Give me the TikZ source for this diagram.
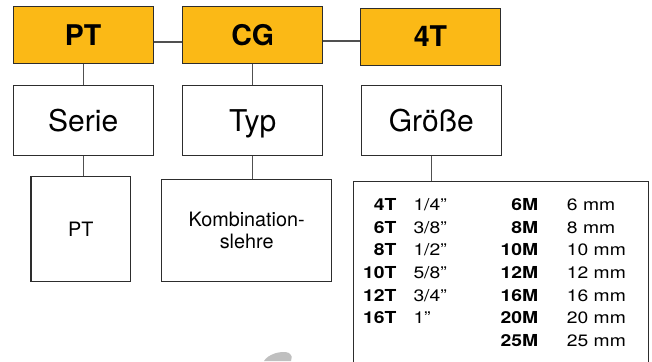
\documentclass[tikz,border=0pt]{standalone}
\usepackage{fontspec}
\setmainfont{TeX Gyre Heros}
\newfontfamily\tabfont{TeX Gyre Heros}[FakeStretch=1.17]
\definecolor{codeorange}{RGB}{251,185,22}
\definecolor{framegray}{RGB}{45,45,45}
\definecolor{linegray}{RGB}{80,80,80}
\tikzset{
  codebox/.style={draw=framegray, line width=1.1pt, fill=codeorange, minimum width=140pt, minimum height=57pt, inner sep=0pt, font=\fontsize{28.5}{30}\selectfont\bfseries, text height=20.5pt, text depth=0pt},
  namebox/.style={draw=framegray, line width=1.1pt, fill=white, minimum width=140pt, minimum height=70pt, inner sep=0pt, font=\fontsize{30}{32}\selectfont, text height=21.5pt, text depth=0pt},
  valuebox/.style={draw=framegray, line width=1.1pt, fill=white, inner sep=0pt, font=\fontsize{19.8}{22.7}\selectfont, align=center},
  tabcol/.style={inner sep=0pt, font=\tabfont\fontsize{16.5}{22.6}\selectfont},
  link/.style={draw=linegray, line width=1.2pt},
}
\begin{document}
\begin{tikzpicture}[x=1pt, y=-1pt]
        \clip (0,0) rectangle (652,361);
        \fill[white] (0,0) rectangle (652,361);
        \fill[black!25] (264,361) .. controls (268,354) and (282,350) .. (289,353) .. controls (292,356) .. (291,361) -- cycle;

        % Nodes
        \node (ptcode)  at (83.2,35.3)  [codebox] {PT};
        \node (cgcode)  at (252.7,35.3) [codebox] {CG};
        \node (sizecode) at (430.5,36.7) [codebox] {4T};
        \node (serie)   at (83.2,120.3)  [namebox] {Serie};
        \node (typ)     at (252.7,120.3) [namebox] {Typ};
        \node (groesse) at (431.3,120.3) [namebox] {Größe};
        \node (ptname)  at (80.8,229.2)  [valuebox, minimum width=99.7pt, minimum height=105pt] {PT};
        \node (kombi)   at (246.7,230.5) [valuebox, minimum width=170pt, minimum height=102.4pt] {Kombination-\\slehre};
        \node (sizes) at (352.7,181) [valuebox, anchor=north west, minimum width=295.6pt, minimum height=220pt] {};

        % Table (anchored at the baseline of the last line)
        \node (tlabels) at (396.7,323.7) [tabcol, anchor=base east, align=right] {\bfseries 4T\\\bfseries 6T\\\bfseries 8T\\\bfseries 10T\\\bfseries 12T\\\bfseries 16T};
        \node (tvalues) at (413.3,323.7) [tabcol, anchor=base west, align=left] {1/4”\\3/8”\\1/2”\\5/8”\\3/4”\\1”};
        \node (mlabels) at (538.3,346.3) [tabcol, anchor=base east, align=right] {\bfseries 6M\\\bfseries 8M\\\bfseries 10M\\\bfseries 12M\\\bfseries 16M\\\bfseries 20M\\\bfseries 25M};
        \node (mvalues) at (566.7,346.3) [tabcol, anchor=base west, align=left] {6 mm\\8 mm\\10 mm\\12 mm\\16 mm\\20 mm\\25 mm};

        % Edges
        \draw[link] ([yshift=-6.7pt]ptcode.east) -- ([yshift=-6.7pt]ptcode.east -| cgcode.west);
        \draw[link] ([yshift=-5.7pt]cgcode.east) -- ([yshift=-5.7pt]cgcode.east -| sizecode.west);
        \draw[link] (ptcode.south) -- (serie.north);
        \draw[link] (cgcode.south) -- (typ.north);
        \draw[link] (serie.south) -- (serie.south |- ptname.north);
        \draw[link] (typ.south) -- (typ.south |- kombi.north);
        \draw[link] (groesse.south) -- (groesse.south |- sizes.north);
      \end{tikzpicture}
\end{document}
